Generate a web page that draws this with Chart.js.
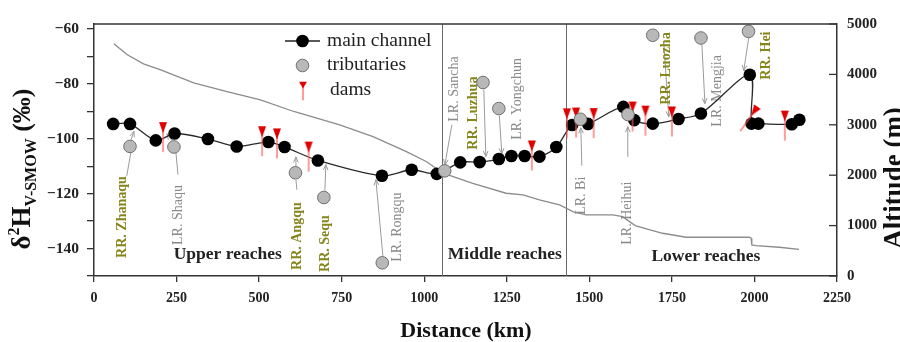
<!DOCTYPE html>
<html><head><meta charset="utf-8">
<script src="https://cdn.jsdelivr.net/npm/chart.js@4/dist/chart.umd.min.js"></script>
<style>html,body{margin:0;padding:0;background:#fff}#wrap{width:900px;height:342px;position:relative}</style>
</head><body><div id="wrap"><canvas id="c" width="900" height="342"></canvas></div>
<script>
// ---- data ----
const mainKm = [58, 109, 187, 244, 345, 432, 528, 577, 678, 872, 962, 1038, 1109, 1168, 1226, 1264, 1304, 1349, 1400, 1448, 1496, 1603, 1636, 1692, 1770, 1838, 1986, 1991, 2012, 2113, 2136];
const mainD = [-94.6, -94.6, -100.6, -98.1, -100.1, -102.8, -101.2, -103.0, -107.9, -113.5, -111.3, -112.8, -108.6, -108.5, -107.4, -106.3, -106.3, -106.5, -103.0, -95.0, -94.6, -88.4, -93.2, -94.5, -92.8, -90.8, -76.7, -94.5, -94.5, -94.7, -93.1];

const tribNames = ['RR. Zhanaqu','LR. Shaqu','RR. Angqu','RR. Sequ','LR. Rongqu','LR. Sancha','RR. Luzhua','LR. Yongchun','LR. Bi','LR. Heihui','RR. Luozha','LR. Mengjia','RR. Hei'];
const tribKm = [109, 242, 610, 696, 873, 1062, 1178, 1226, 1473, 1617, 1692, 1838, 1982];
const tribD = [-102.8, -103.0, -112.4, -121.4, -145.2, -111.7, -79.5, -89.0, -92.9, -91.2, -62.3, -63.3, -60.9];

const damKm = [209, 509, 554, 650, 1326, 1432, 1460, 1513, 1631, 1670, 1750, 1983, 2092];
const damD = [-99.4, -100.9, -101.7, -106.5, -106.1, -94.4, -94.1, -94.3, -91.9, -93.4, -93.7, -92.8, -95.2];
const damRot = [0, 0, 0, 0, 0, 0, 0, 0, 0, 0, 0, 35, 0];

const altKm = [60, 101, 150, 202, 302, 403, 504, 605, 744, 845, 946, 1006, 1057, 1147, 1248, 1299, 1349, 1410, 1450, 1490, 1571, 1601, 1626, 1641, 1722, 1793, 1873, 1984, 1990, 1992, 2004, 2075, 2135];
const altM = [4610, 4390, 4210, 4090, 3830, 3660, 3496, 3264, 3000, 2767, 2469, 2271, 2040, 1840, 1642, 1609, 1510, 1410, 1277, 1212, 1212, 1178, 1059, 993, 848, 769, 769, 769, 749, 616, 602, 570, 530];

const reachBounds = [1053, 1428];
const reachNames = ['Upper reaches', 'Middle reaches', 'Lower reaches'];
const reachKm = [405, 1244, 1853];
const reachD = [-142.3, -142.3, -143.0];

// label anchors (text start, reading upward), in data units
const labelKm = [84.8, 254.3, 614.5, 699.2, 917.2, 1089.7, 1150.2, 1283.4, 1477.2, 1616.4, 1734.5, 1888.9, 2037.2];
const labelD = [-143.4, -138.7, -147.8, -148.5, -144.8, -93.8, -104.0, -100.4, -127.7, -138.6, -87.6, -95.6, -78.5];
// connectors: [km1, d1, km2, d2, arrowhead]
const connectors = [
  [99.3,-113.5,111.4,-105.1,0],
  [112,-100.4,121,-97.3,1],
  [254.3,-113.1,248.2,-105.1,0],
  [236.1,-100.7,221,-98.2,1],
  [614.5,-118.6,611.5,-115,0],
  [611.5,-110.2,611.5,-106.6,1],
  [699.2,-118.9,702.2,-109.4,1],
  [874.8,-142.7,853.6,-114.9,1],
  [1083.7,-94.9,1062.5,-109.5,1],
  [1180.5,-82.1,1186.6,-106.5,1],
  [1227.5,-91.6,1235,-105.5,1],
  [1477.2,-109.8,1474.2,-96.0,1],
  [1616.4,-106.6,1616.4,-95.6,1],
  [1725.5,-65.0,1740.6,-92.0,1],
  [1840.9,-65.7,1850,-87.2,1],
  [1982.7,-63.2,1967.6,-75.2,1]
];

const SERIF = "'Liberation Serif','Times New Roman',serif";
const OLIVE = '#85851c';
const LGRAY = '#8a8a8a';

// dam marker image
const damImg = document.createElement('canvas');
damImg.width = 10; damImg.height = 32;
(function(){
  const g = damImg.getContext('2d');
  g.strokeStyle = '#ff5a5a'; g.lineWidth = 1.2;
  g.beginPath(); g.moveTo(5, 1); g.lineTo(5, 31); g.stroke();
  g.fillStyle = '#e00000';
  g.beginPath(); g.moveTo(1, 1); g.lineTo(9, 1); g.lineTo(5, 12); g.closePath(); g.fill();
})();

const zip = (a, b) => a.map((v, i) => ({x: v, y: b[i]}));

const annot = {
  id: 'annot',
  beforeDatasetsDraw(chart) {
    const {ctx, chartArea: ca, scales} = chart;
    const X = scales.x, Y = scales.y;
    ctx.save();
    // reach dividers
    ctx.strokeStyle = '#6a6a6a'; ctx.lineWidth = 1;
    reachBounds.forEach(k => {
      const px = Math.round(X.getPixelForValue(k)) + 0.5;
      ctx.beginPath(); ctx.moveTo(px, ca.top); ctx.lineTo(px, ca.bottom); ctx.stroke();
    });
    // connectors
    ctx.strokeStyle = '#9a9a9a'; ctx.lineWidth = 1;
    connectors.forEach(c => {
      const x1 = X.getPixelForValue(c[0]), y1 = Y.getPixelForValue(c[1]);
      const x2 = X.getPixelForValue(c[2]), y2 = Y.getPixelForValue(c[3]);
      ctx.beginPath(); ctx.moveTo(x1, y1); ctx.lineTo(x2, y2); ctx.stroke();
      if (c[4]) {
        const a = Math.atan2(y2 - y1, x2 - x1), s = 6;
        ctx.beginPath();
        ctx.moveTo(x2 - s * Math.cos(a - 0.4), y2 - s * Math.sin(a - 0.4));
        ctx.lineTo(x2, y2);
        ctx.lineTo(x2 - s * Math.cos(a + 0.4), y2 - s * Math.sin(a + 0.4));
        ctx.stroke();
      }
    });
    // tributary labels
    tribNames.forEach((t, i) => {
      const rr = t.startsWith('RR');
      ctx.save();
      ctx.translate(X.getPixelForValue(labelKm[i]), Y.getPixelForValue(labelD[i]));
      ctx.rotate(-Math.PI / 2);
      ctx.font = (rr ? 'bold ' : '') + '14px ' + SERIF;
      ctx.fillStyle = rr ? OLIVE : LGRAY;
      ctx.textAlign = 'left'; ctx.textBaseline = 'middle';
      ctx.fillText(t, 0, 0);
      ctx.restore();
    });
    // reach labels
    ctx.font = 'bold 17.5px ' + SERIF; ctx.fillStyle = '#222';
    ctx.textAlign = 'center'; ctx.textBaseline = 'middle';
    reachNames.forEach((t, i) => ctx.fillText(t, X.getPixelForValue(reachKm[i]), Y.getPixelForValue(reachD[i])));
    ctx.restore();
  },
  afterDraw(chart) {
    const {ctx, chartArea: ca, scales} = chart;
    ctx.save();
    // top frame
    ctx.strokeStyle = '#333'; ctx.lineWidth = 1.5;
    ctx.beginPath(); ctx.moveTo(ca.left, ca.top); ctx.lineTo(ca.right, ca.top); ctx.stroke();
    // right axis inward ticks
    ctx.lineWidth = 1.3;
    scales.y2.ticks.forEach(t => {
      const py = scales.y2.getPixelForValue(t.value);
      ctx.beginPath(); ctx.moveTo(ca.right - 8, py); ctx.lineTo(ca.right, py); ctx.stroke();
    });
    // legend
    ctx.strokeStyle = '#222'; ctx.lineWidth = 1.3;
    ctx.beginPath(); ctx.moveTo(285, 41); ctx.lineTo(320, 41); ctx.stroke();
    ctx.fillStyle = '#000';
    ctx.beginPath(); ctx.arc(302.5, 41, 6.3, 0, Math.PI * 2); ctx.fill();
    ctx.fillStyle = '#b8b8b8'; ctx.strokeStyle = '#6f6f6f'; ctx.lineWidth = 1;
    ctx.beginPath(); ctx.arc(302.5, 65.5, 6.3, 0, Math.PI * 2); ctx.fill(); ctx.stroke();
    ctx.drawImage(damImg, 298, 81, 10, 20);
    ctx.fillStyle = '#222'; ctx.font = '19.5px ' + SERIF; ctx.textAlign = 'left'; ctx.textBaseline = 'middle';
    ctx.fillText('main channel', 327, 41);
    ctx.fillText('tributaries', 327, 65);
    ctx.fillText('dams', 330, 90);
    // axis titles
    ctx.fillStyle = '#111';
    ctx.font = 'bold 22px ' + SERIF; ctx.textAlign = 'center';
    ctx.fillText('Distance (km)', 466, 331);
    // left title with super/subscripts
    const parts = [['\u03b4', 'bold 27px ' + SERIF, 0], ['2', 'bold 16px ' + SERIF, -11], ['H', 'bold 27px ' + SERIF, 0], ['V-SMOW', 'bold 16px ' + SERIF, 6], [' (\u2030)', 'bold 26px ' + SERIF, 0]];
    let total = 0;
    parts.forEach(p => { ctx.font = p[1]; p.push(ctx.measureText(p[0]).width); total += p[3]; });
    ctx.save();
    ctx.translate(21, 169); ctx.rotate(-Math.PI / 2);
    ctx.textAlign = 'left'; ctx.textBaseline = 'alphabetic';
    let cx = -total / 2;
    parts.forEach(p => { ctx.font = p[1]; ctx.fillText(p[0], cx, 9 + p[2]); cx += p[3]; });
    ctx.restore();
    ctx.save();
    ctx.translate(893, 178); ctx.rotate(-Math.PI / 2);
    ctx.font = 'bold 27px ' + SERIF; ctx.textAlign = 'center'; ctx.textBaseline = 'alphabetic';
    ctx.fillText('Altitude (m)', 0, 9);
    ctx.restore();
    ctx.restore();
  }
};

new Chart(document.getElementById('c'), {
  type: 'line',
  data: {
    datasets: [
      { label: 'tributaries', data: zip(tribKm, tribD), yAxisID: 'y', showLine: false, order: 0,
        pointRadius: 6.3, pointBackgroundColor: '#b8b8b8', pointBorderColor: '#6f6f6f', pointBorderWidth: 1 },
      { label: 'dams', data: zip(damKm, damD), yAxisID: 'y', showLine: false, order: 1,
        pointStyle: damImg, pointRotation: damRot, pointRadius: 10 },
      { label: 'main channel', data: zip(mainKm, mainD), yAxisID: 'y', order: 2,
        borderColor: '#2a2a2a', borderWidth: 1.3, tension: 0.3,
        pointRadius: 6.3, pointBackgroundColor: '#000', pointBorderColor: '#000', pointBorderWidth: 0 },
      { label: 'altitude', data: zip(altKm, altM), yAxisID: 'y2', order: 3,
        borderColor: '#8c8c8c', borderWidth: 1.3, tension: 0, pointRadius: 0 }
    ]
  },
  options: {
    responsive: false, animation: false, devicePixelRatio: 1,
    layout: { padding: { top: 24, left: 0, right: 0, bottom: 0 } },
    plugins: { legend: { display: false }, tooltip: { enabled: false } },
    scales: {
      x: {
        type: 'linear', position: 'bottom', min: 0, max: 2250,
        ticks: { stepSize: 250, color: '#222', font: { family: SERIF, size: 14, weight: 'bold' }, padding: 8, maxRotation: 0,
          callback: v => String(v) },
        grid: { drawOnChartArea: false, drawTicks: true, tickLength: 6, color: '#333', lineWidth: 1.3 },
        border: { display: true, color: '#333', width: 1.5 },
        afterFit: s => { s.height = 66; }
      },
      y: {
        type: 'linear', position: 'left', min: -150, max: -58.2,
        ticks: { stepSize: 10, includeBounds: false, autoSkip: false, color: '#222', padding: 8,
          font: { family: SERIF, size: 15.5, weight: 'bold' },
          callback: v => (v % 20 === 0 ? '\u2212' + Math.abs(v) : '') },
        grid: { drawOnChartArea: false, drawTicks: true, tickLength: 7, color: '#333', lineWidth: 1.3 },
        border: { display: true, color: '#333', width: 1.5 },
        afterFit: s => { s.width = 94; }
      },
      y2: {
        type: 'linear', position: 'right', min: 0, max: 5000,
        ticks: { stepSize: 1000, color: '#222', padding: 10, font: { family: SERIF, size: 15, weight: 'bold' },
          callback: v => String(v) },
        grid: { display: false, drawOnChartArea: false, drawTicks: false },
        border: { display: true, color: '#333', width: 1.5 },
        afterFit: s => { s.width = 63; }
      }
    }
  },
  plugins: [annot]
});
</script></body></html>
